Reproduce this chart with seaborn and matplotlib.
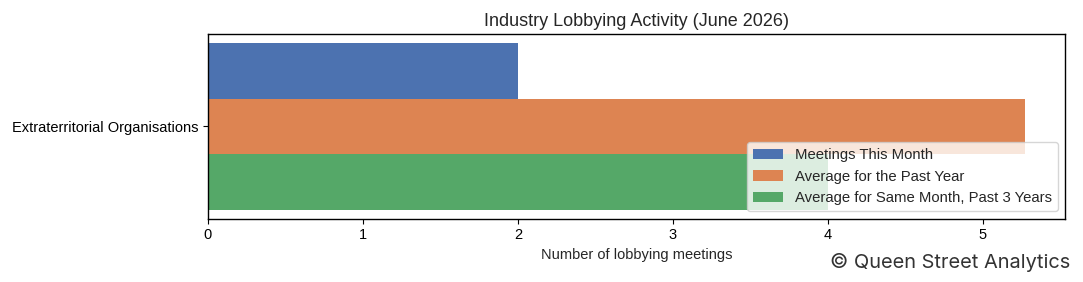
import pandas as pd
import seaborn as sns
import matplotlib.pyplot as plt

# data
categories = ["Extraterritorial Organisations"]
series = ["Meetings This Month", "Average for the Past Year",
          "Average for Same Month, Past 3 Years"]
this_month = [2.0]
past_year = [5.27]
same_month_3y = [4.0]

rows = []
for i, cat in enumerate(categories):
    for name, vals in zip(series, [this_month, past_year, same_month_3y]):
        rows.append({"industry": cat, "series": name, "meetings": vals[i]})
df = pd.DataFrame(rows)

sns.set_style("ticks")
sns.set_palette("deep")
plt.rcParams['font.family'] = ['Liberation Sans', 'DejaVu Sans']

fig, ax = plt.subplots(figsize=(10.83, 2.82), dpi=100)
fig.subplots_adjust(left=0.192, right=0.9834, top=0.879, bottom=0.225)

sns.barplot(data=df, y="industry", x="meetings", hue="series",
            orient="h", saturation=1, linewidth=0, ax=ax)

for side in ['top', 'right', 'left', 'bottom']:
    ax.spines[side].set_visible(True)
    ax.spines[side].set_color('black')
    ax.spines[side].set_linewidth(1.0)

ax.set_ylim(0.442, -0.442)
ax.set_xlim(0, 5.53)
ax.set_title("Industry Lobbying Activity (June 2026)", fontsize=13)
ax.set_xlabel("Number of lobbying meetings", fontsize=10.5)
ax.set_ylabel("")
ax.tick_params(axis='both', labelsize=10.5, colors='black')
ax.legend(loc="lower right", fontsize=10.7, title=None)

# watermark
fig.text(0.988, 0.05, "\u00a9 Queen Street Analytics", ha='right', va='baseline',
         fontsize=14.4, color='#333333', family=['Inter', 'DejaVu Sans'])

plt.savefig("out.png", dpi=100)
